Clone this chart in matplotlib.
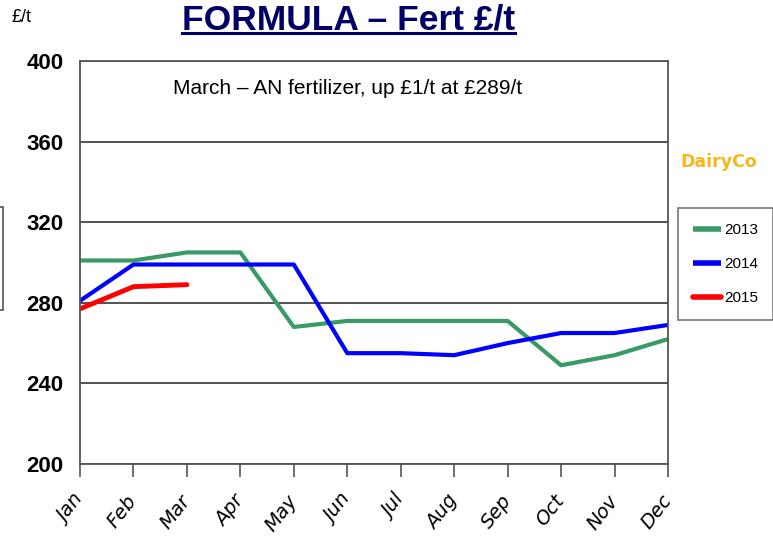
import matplotlib.pyplot as plt
from matplotlib.patches import Rectangle

months = ['Jan', 'Feb', 'Mar', 'Apr', 'May', 'Jun', 'Jul', 'Aug', 'Sep', 'Oct', 'Nov', 'Dec']
fert_2013 = [301, 301, 305, 305, 268, 271, 271, 271, 271, 249, 254, 262]
fert_2014 = [281, 299, 299, 299, 299, 255, 255, 254, 260, 265, 265, 269]
fert_2015 = [277, 288, 289]
y_ticks = [200, 240, 280, 320, 360, 400]

fig = plt.figure(figsize=(7.73, 5.43), dpi=100)
ax = fig.add_axes([80 / 773, 79 / 543, 588 / 773, 403 / 543])

x = list(range(len(months)))
ax.plot(x, fert_2013, color='#3a9a66', lw=3, label='2013', solid_capstyle='butt')
ax.plot(x, fert_2014, color='#0000ff', lw=3, label='2014', solid_capstyle='butt')
ax.plot(x[:len(fert_2015)], fert_2015, color='#ff0000', lw=3.5, label='2015', solid_capstyle='round')

ax.set_xlim(0, 11)
ax.set_ylim(200, 400)
ax.set_yticks(y_ticks)
ax.set_yticklabels([str(v) for v in y_ticks], fontsize=16, fontweight='bold',
                   family=['Liberation Sans Narrow', 'Liberation Sans', 'DejaVu Sans'])
ax.tick_params(axis='y', length=0, pad=12)
ax.set_xticks(x)
ax.set_xticklabels(months, rotation=52, fontsize=14, style='italic',
                   ha='right', va='center', rotation_mode='anchor')
ax.tick_params(axis='x', length=9, width=1.2, color='#555555', direction='out', pad=15)
ax.yaxis.grid(True, color='#444444', lw=1.3)
ax.set_axisbelow(True)
for s in ax.spines.values():
    s.set_color('#555555')
    s.set_linewidth(1.3)

ax.text(348 / 773, 1 - 88 / 543, 'March \u2013 AN fertilizer, up \u00a31/t at \u00a3289/t',
        transform=fig.transFigure, ha='center', va='center', fontsize=15, family='Liberation Sans')

fig.text(182 / 773, 1 - 30 / 543, 'FORMULA \u2013 Fert \u00a3/t', color='#000066', fontsize=25.5,
         fontweight='bold', ha='left', va='baseline', family='Liberation Sans')
fig.add_artist(plt.Line2D([182 / 773, 515 / 773], [1 - 33 / 543, 1 - 33 / 543],
                          color='#000066', lw=2.2))
fig.text(12 / 773, 1 - 18 / 543, '\u00a3/t', fontsize=13, ha='left', va='center',
         family=['Liberation Sans Narrow', 'Liberation Sans'])
fig.text(680 / 773, 1 - 162 / 543, 'DairyCo', color='#f5b81c', fontsize=12.5,
         fontweight='bold', ha='left', va='center')

fig.add_artist(Rectangle((-0.01, 1 - 310 / 543), 11 / 773, 103 / 543, transform=fig.transFigure,
                         fill=False, ec='#555555', lw=1.2))

leg = ax.legend(loc='upper left', bbox_to_anchor=(678 / 773, 1 - 208 / 543),
                bbox_transform=fig.transFigure, frameon=True, fancybox=False,
                handlelength=1.8, handletextpad=0.2, labelspacing=1.3,
                borderpad=1.0, borderaxespad=0,
                prop={'family': ['Liberation Sans Narrow', 'Liberation Sans'], 'size': 11})
leg.get_frame().set_edgecolor('#555555')
leg.get_frame().set_linewidth(1.2)
for h in leg.get_lines():
    h.set_linewidth(4)

fig.savefig('out.png', dpi=100)
